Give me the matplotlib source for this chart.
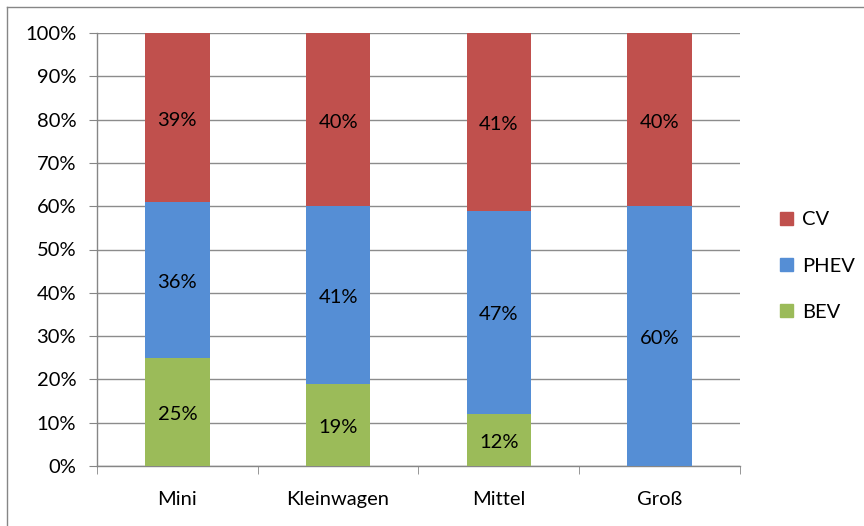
import numpy as np
import matplotlib
matplotlib.use('Agg')
import matplotlib.pyplot as plt
from matplotlib.lines import Line2D
from matplotlib.patches import Patch

plt.rcParams['font.family'] = ['Lato', 'DejaVu Sans']

# Daten
kategorien = ['Mini', 'Kleinwagen', 'Mittel', 'Groß']
bev = [25, 19, 12, 0]
phev = [36, 41, 47, 60]
cv = [39, 40, 41, 40]

farben = {'BEV': '#9BBB59', 'PHEV': '#558ED5', 'CV': '#C0504D'}
fs = 14.5

fig = plt.figure(figsize=(8.64, 5.26), dpi=100)
ax = fig.add_axes([97 / 864, 1 - 466 / 526, 643 / 864, 433 / 526])

x = np.arange(len(kategorien))
unten = np.zeros(len(kategorien))
for name, werte in [('BEV', bev), ('PHEV', phev), ('CV', cv)]:
    werte = np.array(werte, dtype=float)
    ax.bar(x, werte, 0.4, bottom=unten, color=farben[name], zorder=3)
    for xi, b, w in zip(x, unten, werte):
        if w > 0:
            ax.text(xi, b + w / 2 - 0.6, f'{w:.0f}%', ha='center', va='center',
                    fontsize=fs, color='black', zorder=4)
    unten += werte

ax.set_xlim(-0.5, len(kategorien) - 0.5)
ax.set_ylim(0, 100)
ax.set_yticks(range(0, 101, 10))
ax.set_yticklabels([f'{v}%' for v in range(0, 101, 10)], fontsize=fs)
ax.set_xticks(x)
ax.set_xticklabels(kategorien, fontsize=fs)
ax.set_xticks(np.arange(-0.5, len(kategorien)), minor=True)
ax.tick_params(axis='x', which='major', length=0, pad=18)
ax.tick_params(axis='x', which='minor', length=6, color='#868686')
ax.tick_params(axis='y', length=6, color='#868686', pad=9)

ax.grid(axis='y', color='#8C8C8C', linewidth=1, zorder=0)
for s in ['top', 'right']:
    ax.spines[s].set_visible(False)
for s in ['left', 'bottom']:
    ax.spines[s].set_color('#868686')
    ax.spines[s].set_linewidth(1)

handles = [Patch(color=farben[n]) for n in ['CV', 'PHEV', 'BEV']]
fig.legend(handles, ['CV', 'PHEV', 'BEV'], loc='center left',
           bbox_to_anchor=(762 / 864, 1 - 266 / 526), frameon=False,
           fontsize=fs, handlelength=0.65, handleheight=0.65,
           labelspacing=1.45, handletextpad=0.45)

# Rahmen
fig.add_artist(Line2D([6.5 / 864, 6.5 / 864], [0, 1 - 7 / 526],
                      transform=fig.transFigure, color='#868686', lw=1))
fig.add_artist(Line2D([6.5 / 864, 1], [1 - 7 / 526, 1 - 7 / 526],
                      transform=fig.transFigure, color='#868686', lw=1))

fig.savefig('out.png', dpi=100)
